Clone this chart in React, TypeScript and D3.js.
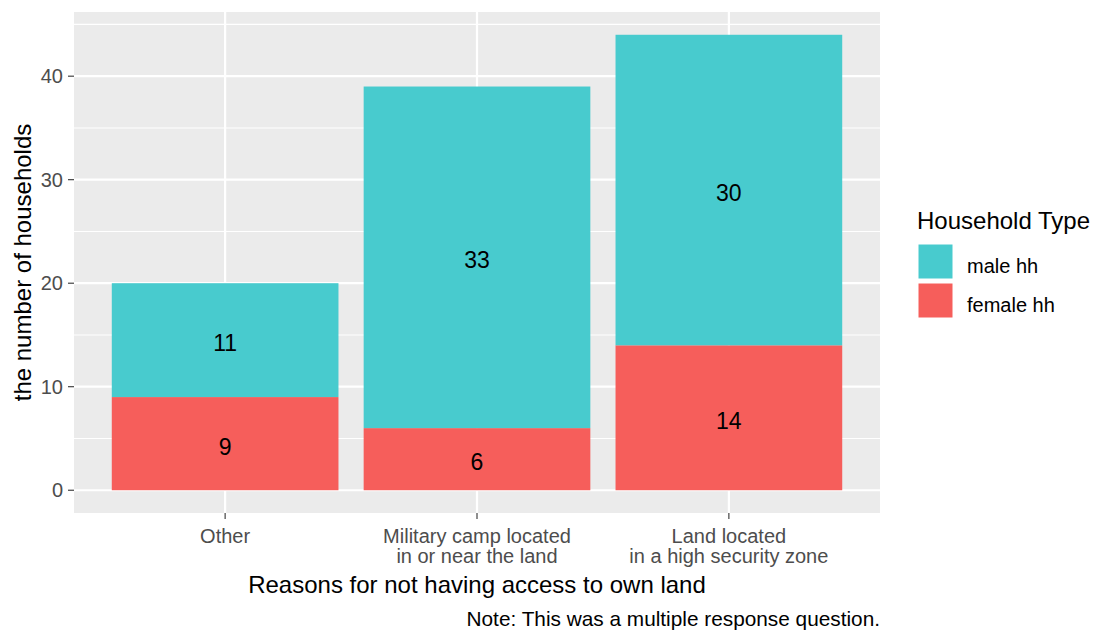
import React from "react";
import * as d3 from "d3";

const categories = ["Other", "Military camp located\nin or near the land", "Land located\nin a high security zone"];
const femaleValues = [9, 6, 14];
const maleValues = [11, 33, 30];
const yTicks = [0, 10, 20, 30, 40];
const yMinor = [5, 15, 25, 35, 45];
const seriesNames = ["male hh", "female hh"];
const seriesColors = ["#48CBCE", "#F65E5B"];

const W = 1097, H = 630;
const P = { left: 74, right: 880, top: 12, bottom: 513 };
const FONT = "'Liberation Sans', Arial, sans-serif";

export default function App() {
  const totalMax = d3.max(categories.map((_, i) => femaleValues[i] + maleValues[i])) as number;
  const y = d3.scaleLinear().domain([-totalMax * 0.05, totalMax * 1.05]).range([P.bottom, P.top]);
  const unit = (P.right - P.left) / (categories.length - 1 + 1.2);
  const xc = (i: number) => P.left + unit * (0.6 + i);
  const bw = unit * 0.9;

  return (
    <svg width={W} height={H} style={{ position: "absolute", left: 0, top: 0 }} fontFamily={FONT}>
      <rect x={0} y={0} width={W} height={H} fill="#fff" />
      <rect x={P.left} y={P.top} width={P.right - P.left} height={P.bottom - P.top} fill="#EBEBEB" />
      {yMinor.map((t) => y(t) > P.top ? (
        <line key={"mn" + t} x1={P.left} x2={P.right} y1={y(t)} y2={y(t)} stroke="#fff" strokeWidth={1.1} />
      ) : null)}
      {yTicks.map((t) => (
        <line key={"mj" + t} x1={P.left} x2={P.right} y1={y(t)} y2={y(t)} stroke="#fff" strokeWidth={2.2} />
      ))}
      {categories.map((_, i) => (
        <line key={"vx" + i} x1={xc(i)} x2={xc(i)} y1={P.top} y2={P.bottom} stroke="#fff" strokeWidth={2.2} />
      ))}
      {categories.map((_, i) => {
        const f = femaleValues[i], m = maleValues[i];
        return (
          <g key={"bar" + i}>
            <rect x={xc(i) - bw / 2} y={y(f)} width={bw} height={y(0) - y(f)} fill={seriesColors[1]} />
            <rect x={xc(i) - bw / 2} y={y(f + m)} width={bw} height={y(f) - y(f + m)} fill={seriesColors[0]} />
            <text x={xc(i)} y={y(f / 2)} dy="0.48em" textAnchor="middle" fontSize={23} fill="#000">{f}</text>
            <text x={xc(i)} y={y(f + m / 2)} dy="0.48em" textAnchor="middle" fontSize={23} fill="#000">{m}</text>
          </g>
        );
      })}
      {yTicks.map((t) => (
        <g key={"yt" + t}>
          <line x1={P.left - 6} x2={P.left} y1={y(t)} y2={y(t)} stroke="#333" strokeWidth={1.1} />
          <text x={P.left - 11} y={y(t)} dy="0.36em" textAnchor="end" fontSize={20} fill="#4D4D4D">{t}</text>
        </g>
      ))}
      {categories.map((c, i) => (
        <g key={"xt" + i}>
          <line x1={xc(i)} x2={xc(i)} y1={P.bottom} y2={P.bottom + 6} stroke="#333" strokeWidth={1.1} />
          {c.split("\n").map((ln, j) => (
            <text key={j} x={xc(i)} y={P.bottom + 30 + j * 20} textAnchor="middle" fontSize={20} fill="#4D4D4D">{ln}</text>
          ))}
        </g>
      ))}
      <text x={(P.left + P.right) / 2} y={593} textAnchor="middle" fontSize={24} fill="#000">Reasons for not having access to own land</text>
      <text transform={`translate(31,${(P.top + P.bottom) / 2}) rotate(-90)`} textAnchor="middle" fontSize={24} fill="#000">the number of households</text>
      <text x={P.right} y={626} textAnchor="end" fontSize={20.8} fill="#000">Note: This was a multiple response question.</text>
      <text x={917} y={229} fontSize={24} fill="#000">Household Type</text>
      {seriesNames.map((s, i) => (
        <g key={"lg" + i}>
          <rect x={918} y={244 + i * 39} width={35} height={35} fill={seriesColors[i]} stroke="#fff" strokeWidth={1} />
          <text x={967} y={273 + i * 39} fontSize={20} fill="#000">{s}</text>
        </g>
      ))}
    </svg>
  );
}
